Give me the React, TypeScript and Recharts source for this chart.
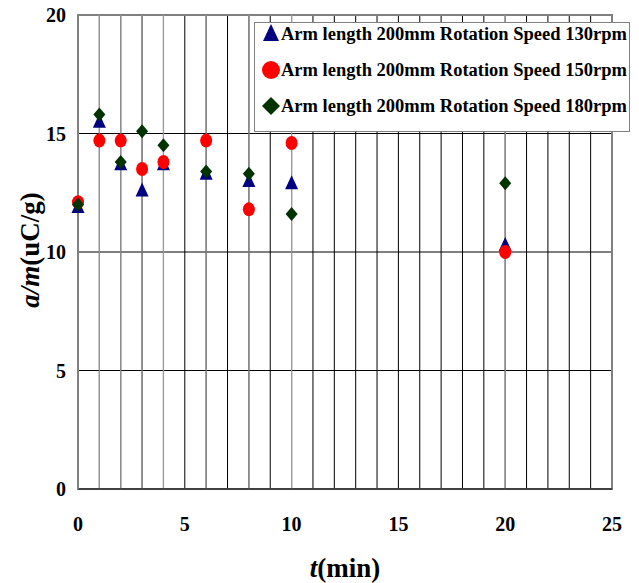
import { ScatterChart, Scatter, XAxis, YAxis, CartesianGrid, Legend, ReferenceLine, ReferenceArea } from 'recharts'

const times = [0, 1, 2, 3, 4, 6, 8, 10, 20]
const speed130 = [11.9, 15.5, 13.7, 12.6, 13.7, 13.3, 13.0, 12.9, 10.3]
const speed150 = [12.1, 14.7, 14.7, 13.5, 13.8, 14.7, 11.8, 14.6, 10.0]
const speed180 = [12.0, 15.8, 13.8, 15.1, 14.5, 13.4, 13.3, 11.6, 12.9]

const xGridTicks = [0, 1, 2, 3, 4, 5, 6, 7, 8, 9, 10, 11, 12, 13, 14, 15, 16, 17, 18, 19, 20, 21, 22, 23, 24, 25]
const xLabelTicks = [0, 5, 10, 15, 20, 25]
const yTicks = [0, 5, 10, 15, 20]

const seriesNames = [
  'Arm length 200mm Rotation Speed 130rpm',
  'Arm length 200mm Rotation Speed 150rpm',
  'Arm length 200mm Rotation Speed 180rpm'
]

const toPoints = (vals: number[]) => times.map((t, i) => ({ t, v: vals[i] }))

const font = "'Liberation Serif', 'Times New Roman', Times, serif"
const colors = ['#000080', '#ff0000', '#003300']

const Triangle = (p: any) => (
  <polygon points={`${p.cx},${p.cy - 8} ${p.cx + 6.5},${p.cy + 6} ${p.cx - 6.5},${p.cy + 6}`} fill={colors[0]} />
)
const Ellipse = (p: any) => <ellipse cx={p.cx} cy={p.cy} rx={6} ry={7} fill={colors[1]} />
const Diamond = (p: any) => (
  <polygon points={`${p.cx},${p.cy - 7} ${p.cx + 6},${p.cy} ${p.cx},${p.cy + 7} ${p.cx - 6},${p.cy}`} fill={colors[2]} />
)

function LegendMarker({ i }: { i: number }) {
  if (i === 0) return <polygon points="10,1 18,18 2,18" fill={colors[0]} />
  if (i === 1) return <ellipse cx={10} cy={11} rx={9} ry={9} fill={colors[1]} />
  return <polygon points="10,2 19,11 10,20 1,11" fill={colors[2]} />
}

function LegendBox() {
  return (
    <div style={{ fontFamily: font, fontWeight: 'bold', fontSize: 18.5, color: '#000' }}>
      {seriesNames.map((name, i) => (
        <div key={name} style={{ display: 'flex', alignItems: 'center', height: 22, marginBottom: 14, whiteSpace: 'nowrap' }}>
          <svg width={20} height={22} style={{ marginLeft: 6 }}>
            <LegendMarker i={i} />
          </svg>
          <span>{name}</span>
        </div>
      ))}
    </div>
  )
}

function XTitle() {
  return (
    <text x={345} y={577} textAnchor="middle" style={{ fontFamily: font, fontWeight: 'bold', fontSize: 27 }} fill="#000">
      <tspan fontStyle="italic">t</tspan>
      <tspan>(min)</tspan>
    </text>
  )
}

function YTitle() {
  return (
    <text x={30} y={250} transform="rotate(-90, 30, 250)" textAnchor="middle" dominantBaseline="central"
      style={{ fontFamily: font, fontWeight: 'bold', fontSize: 27 }} fill="#000">
      <tspan fontStyle="italic">a/m</tspan>
      <tspan>(uC/g)</tspan>
    </text>
  )
}

export default function App() {
  const tickStyle = { fontFamily: font, fontWeight: 'bold', fontSize: 20, fill: '#000' }
  return (
    <div style={{ position: 'absolute', left: 0, top: 0, background: '#fff', fontFamily: font }}>
      <ScatterChart width={639} height={583} margin={{ top: 15, right: 27, bottom: 0, left: 0 }}>
        <CartesianGrid stroke="#000" strokeWidth={1} />
        <XAxis
          type="number"
          dataKey="t"
          domain={[0, 25]}
          ticks={xGridTicks}
          interval={0}
          tickFormatter={(v: number) => (xLabelTicks.includes(v) ? String(v) : '')}
          tick={tickStyle}
          tickLine={false}
          tickMargin={22}
          height={94}
          axisLine={{ stroke: '#000' }}
          label={<XTitle />}
        />
        <YAxis
          type="number"
          dataKey="v"
          domain={[0, 20]}
          ticks={yTicks}
          tick={tickStyle}
          tickLine={false}
          tickMargin={6}
          width={78}
          axisLine={{ stroke: '#808080', strokeWidth: 2 }}
          label={<YTitle />}
        />
        {times.map(t => (
          <ReferenceLine key={t} x={t} stroke="#999" strokeWidth={1.2} />
        ))}
        <ReferenceArea x1={0} x2={25} y1={0} y2={20} fill="none" stroke="#808080" strokeWidth={2} />
        <Scatter name={seriesNames[0]} data={toPoints(speed130)} fill={colors[0]} shape={Triangle} isAnimationActive={false} />
        <Scatter name={seriesNames[1]} data={toPoints(speed150)} fill={colors[1]} shape={Ellipse} isAnimationActive={false} />
        <Scatter name={seriesNames[2]} data={toPoints(speed180)} fill={colors[2]} shape={Diamond} isAnimationActive={false} />
        <Legend
          layout="horizontal"
          align="center"
          verticalAlign="middle"
          content={<LegendBox />}
          wrapperStyle={{
            position: 'absolute', left: 254, top: 22, width: 376, height: 110,
            border: '1px solid #808080', background: '#fff', boxSizing: 'border-box'
          }}
        />
      </ScatterChart>
    </div>
  )
}
